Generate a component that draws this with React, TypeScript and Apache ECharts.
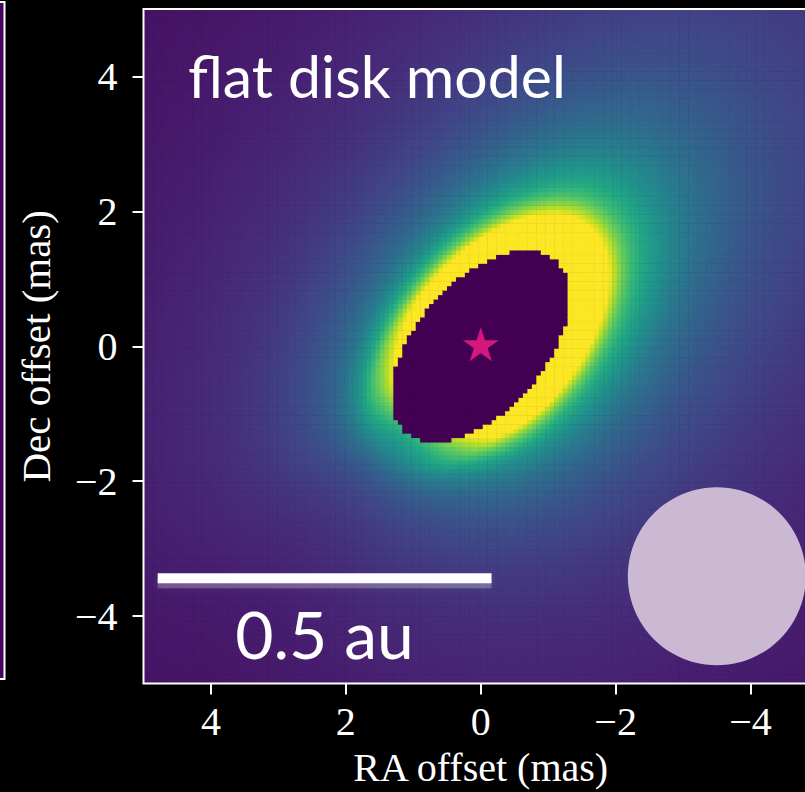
import React, { useEffect, useRef } from "react";
import * as echarts from "echarts";

// ---------- data ----------
const TITLE = "flat disk model";
const X_TITLE = "RA offset (mas)";
const Y_TITLE = "Dec offset (mas)";
const SCALE_LABEL = "0.5 au";

const FIELD_HALF = 5; // image spans -5..5 mas on both axes
const GRID_CELLS = 151; // model image pixels per side

const VIRIDIS = [
  "#440154", "#482475", "#414487", "#355f8d", "#2a788e", "#21918c",
  "#22a884", "#44bf70", "#7ad151", "#bddf26", "#fde725",
];

// flat disk geometry
const CAVITY_SEMI_MAJOR = 1.695; // mas
const COS_INCLINATION = 0.562; // minor / major axis ratio
const MAJOR_AXIS_ANGLE_DEG = 49.1; // from +x (west) toward north

// radial brightness profile (colour-scale level, read along the disk minor axis)
const PROFILE_RADIUS = [1.7, 2.1, 2.4, 2.8, 3.3, 4.0, 5.0, 6.5, 8.5, 11, 14];
const PROFILE_LEVEL = [1.4, 1.0, 0.7, 0.48, 0.355, 0.26, 0.185, 0.13, 0.09, 0.062, 0.045];

// azimuthal brightness factor (disk-plane azimuth from the NW end of the major axis), every 45 deg
const AZIMUTH_DEG = [-180, -135, -90, -45, 0, 45, 90, 135];
const AZIMUTH_FACTOR = [0.45, 0.68, 1.32, 1.48, 1.42, 1.22, 0.98, 0.7];

const STAR = [[0, 0.03]];
const BEAM = [[-3.5, -3.41]];
const BEAM_DIAMETER = 2.64; // mas
const SCALE_BAR = [[4.79, -0.16, -3.44]]; // [ra start, ra end, dec]

// ---------- layout ----------
const PLOT_LEFT = 143.5;
const PLOT_TOP = 9;
const PLOT_SIZE = 674.5;
const PX_PER_MAS = PLOT_SIZE / (2 * FIELD_HALF);

const catmull = (p0: number, p1: number, p2: number, p3: number, t: number) =>
  0.5 * (2 * p1 + (-p0 + p2) * t + (2 * p0 - 5 * p1 + 4 * p2 - p3) * t * t + (-p0 + 3 * p1 - 3 * p2 + p3) * t * t * t);

function profileAt(r: number) {
  const xs = PROFILE_RADIUS.map(Math.log);
  const ys = PROFILE_LEVEL.map(Math.log);
  const x = Math.log(r);
  const n = xs.length;
  if (x <= xs[0]) return PROFILE_LEVEL[0];
  if (x >= xs[n - 1]) return PROFILE_LEVEL[n - 1];
  let k = 0;
  while (x > xs[k + 1]) k++;
  const t = (x - xs[k]) / (xs[k + 1] - xs[k]);
  const y0 = k > 0 ? ys[k - 1] : 2 * ys[k] - ys[k + 1];
  const y3 = k + 2 < n ? ys[k + 2] : 2 * ys[k + 1] - ys[k];
  return Math.exp(catmull(y0, ys[k], ys[k + 1], y3, t));
}

function azimuthAt(phiDeg: number) {
  const n = AZIMUTH_FACTOR.length;
  const stepDeg = 360 / n;
  let pos = (phiDeg - AZIMUTH_DEG[0]) / stepDeg;
  pos = ((pos % n) + n) % n;
  const k = Math.floor(pos);
  const t = pos - k;
  const f = (i: number) => AZIMUTH_FACTOR[((i % n) + n) % n];
  return catmull(f(k - 1), f(k), f(k + 1), f(k + 2), t);
}

function buildCells() {
  const step = (2 * FIELD_HALF) / GRID_CELLS;
  const raCats: string[] = [];
  const decCats: string[] = [];
  for (let k = 0; k < GRID_CELLS; k++) {
    raCats.push((FIELD_HALF - (k + 0.5) * step).toFixed(3));
    decCats.push((-FIELD_HALF + (k + 0.5) * step).toFixed(3));
  }
  const th = (MAJOR_AXIS_ANGLE_DEG * Math.PI) / 180;
  const c = Math.cos(th);
  const s = Math.sin(th);
  const data: number[][] = [];
  for (let i = 0; i < GRID_CELLS; i++) {
    const X = -parseFloat(raCats[i]);
    for (let j = 0; j < GRID_CELLS; j++) {
      const Y = parseFloat(decCats[j]);
      const u = X * c + Y * s;
      const v = (-X * s + Y * c) / COS_INCLINATION;
      const r = Math.hypot(u, v);
      let val = 0;
      if (r >= CAVITY_SEMI_MAJOR) {
        const phi = (Math.atan2(v, u) * 180) / Math.PI;
        val = profileAt(r) * azimuthAt(phi);
        val = Math.max(0, Math.min(1, val));
      }
      data.push([i, j, val]);
    }
  }
  return { raCats, decCats, data };
}

const fmt = (v: number) => (v < 0 ? "\u2212" + Math.abs(v) : String(v));

const SERIF = "Liberation Serif";
const SANS = "Lato";

export default function App() {
  const ref = useRef<HTMLDivElement>(null);
  useEffect(() => {
    if (!ref.current) return;
    const chart = echarts.init(ref.current, null, { renderer: "svg" });
    const { raCats, decCats, data } = buildCells();
    const tickAxis = {
      type: "value",
      gridIndex: 1,
      min: -4,
      max: 4,
      interval: 2,
      offset: PX_PER_MAS,
      axisLine: { show: false, onZero: false },
      axisTick: { show: true, length: 11, lineStyle: { color: "#fff", width: 2 } },
      splitLine: { show: false },
    };
    chart.setOption({
      backgroundColor: "#000",
      animation: false,
      grid: [
        { left: PLOT_LEFT, top: PLOT_TOP, width: PLOT_SIZE, height: PLOT_SIZE, containLabel: false, outerBoundsMode: "none" },
        {
          left: PLOT_LEFT + PX_PER_MAS,
          top: PLOT_TOP + PX_PER_MAS,
          width: PLOT_SIZE - 2 * PX_PER_MAS,
          height: PLOT_SIZE - 2 * PX_PER_MAS,
          containLabel: false,
          outerBoundsMode: "none",
        },
      ],
      xAxis: [
        { type: "category", gridIndex: 0, data: raCats, show: false },
        {
          ...tickAxis,
          inverse: true,
          position: "bottom",
          axisLabel: { color: "#fff", fontFamily: SERIF, fontSize: 40, margin: 18, formatter: fmt },
        },
        { type: "value", gridIndex: 0, min: -FIELD_HALF, max: FIELD_HALF, inverse: true, show: false, axisLine: { onZero: false } },
      ],
      yAxis: [
        { type: "category", gridIndex: 0, data: decCats, show: false },
        {
          ...tickAxis,
          position: "left",
          axisLabel: { color: "#fff", fontFamily: SERIF, fontSize: 40, margin: 26, formatter: fmt },
        },
        { type: "value", gridIndex: 0, min: -FIELD_HALF, max: FIELD_HALF, show: false, axisLine: { onZero: false } },
      ],
      visualMap: {
        type: "continuous",
        show: false,
        min: 0,
        max: 1,
        dimension: 2,
        seriesIndex: 0,
        inRange: { color: VIRIDIS },
      },
      series: [
        {
          type: "heatmap",
          xAxisIndex: 0,
          yAxisIndex: 0,
          data,
          progressive: 0,
          silent: true,
          emphasis: { disabled: true },
        },
        {
          type: "scatter",
          xAxisIndex: 2,
          yAxisIndex: 2,
          data: BEAM,
          symbol: "circle",
          symbolSize: BEAM_DIAMETER * PX_PER_MAS,
          itemStyle: { color: "#cbb9d4", opacity: 1 },
          silent: true,
          z: 5,
        },
        {
          type: "custom",
          xAxisIndex: 2,
          yAxisIndex: 2,
          data: SCALE_BAR,
          encode: { x: [0, 1], y: 2 },
          silent: true,
          z: 6,
          renderItem: (params: any, api: any) => {
            const p0 = api.coord([api.value(0), api.value(2)]);
            const p1 = api.coord([api.value(1), api.value(2)]);
            return {
              type: "group",
              children: [
                {
                  type: "rect",
                  shape: { x: p0[0], y: p0[1] + 1, width: p1[0] - p0[0], height: 9 },
                  style: { fill: "rgba(255,255,255,0.22)", shadowBlur: 6, shadowColor: "rgba(255,255,255,0.35)" },
                },
                {
                  type: "rect",
                  shape: { x: p0[0], y: p0[1] - 5, width: p1[0] - p0[0], height: 10 },
                  style: { fill: "#fff" },
                },
              ],
            };
          },
        },
        {
          type: "scatter",
          xAxisIndex: 2,
          yAxisIndex: 2,
          data: STAR,
          symbol: "path://M50,0 L61.2,34.5 L97.6,34.5 L68.2,55.9 L79.4,90.5 L50,69.1 L20.6,90.5 L31.8,55.9 L2.4,34.5 L38.8,34.5 Z",
          symbolSize: [36, 34],
          itemStyle: { color: "#d4177d", opacity: 1 },
          silent: true,
          z: 7,
        },
      ],
      graphic: [
        {
          type: "rect",
          shape: { x: -20, y: 2, width: 24.5, height: 677 },
          style: { fill: "#45065b", stroke: "#fff", lineWidth: 2 },
          z: 100,
          silent: true,
        },
        {
          type: "rect",
          shape: { x: PLOT_LEFT, y: PLOT_TOP, width: PLOT_SIZE, height: PLOT_SIZE },
          style: { fill: "none", stroke: "#fff", lineWidth: 2 },
          z: 100,
          silent: true,
        },
        {
          type: "text",
          x: 188,
          y: 75,
          z: 101,
          style: {
            text: TITLE,
            fill: "#fff",
            fontFamily: SANS,
            fontSize: 59,
            align: "left",
            verticalAlign: "middle",
            textAlign: "left",
            textVerticalAlign: "middle",
          },
        },
        {
          type: "text",
          x: 324.5,
          y: 633,
          z: 101,
          style: {
            text: SCALE_LABEL,
            fill: "#fff",
            fontFamily: SANS,
            fontSize: 66,
            align: "center",
            verticalAlign: "middle",
            textAlign: "center",
            textVerticalAlign: "middle",
          },
        },
        {
          type: "text",
          x: PLOT_LEFT + PLOT_SIZE / 2,
          y: 767,
          z: 101,
          style: {
            text: X_TITLE,
            fill: "#fff",
            fontFamily: SERIF,
            fontSize: 40,
            align: "center",
            verticalAlign: "middle",
            textAlign: "center",
            textVerticalAlign: "middle",
          },
        },
        {
          type: "text",
          x: 35.5,
          y: PLOT_TOP + PLOT_SIZE / 2,
          rotation: Math.PI / 2,
          z: 101,
          style: {
            text: Y_TITLE,
            fill: "#fff",
            fontFamily: SERIF,
            fontSize: 41,
            align: "center",
            verticalAlign: "middle",
            textAlign: "center",
            textVerticalAlign: "middle",
          },
        },
      ],
    });
    return () => chart.dispose();
  }, []);
  return (
    <div
      ref={ref}
      style={{ position: "fixed", left: 0, top: 0, width: 805, height: 792, overflow: "hidden", background: "#000" }}
    />
  );
}
